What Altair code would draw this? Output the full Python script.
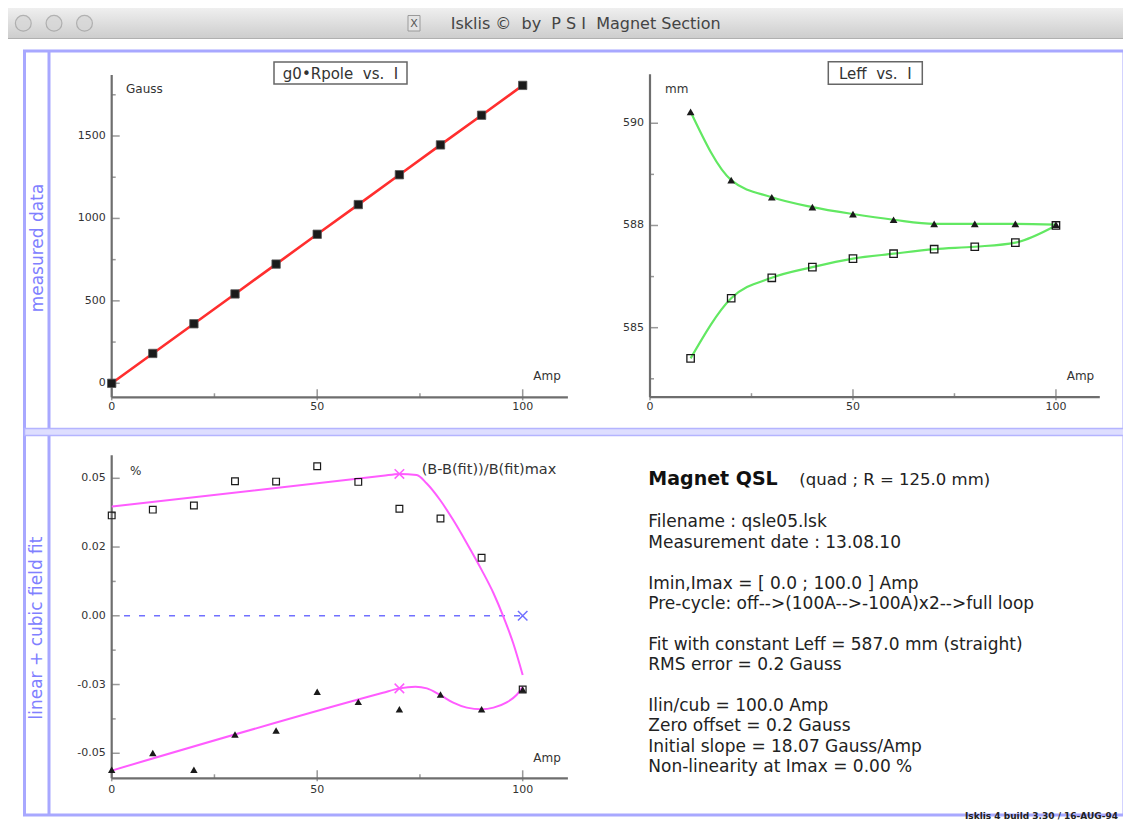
import altair as alt
import pandas as pd

# ---------------- values ----------------
current = [0, 10, 20, 30, 40, 50, 60, 70, 80, 90, 100]
field_gauss = [0, 181, 361, 542, 723, 904, 1084, 1265, 1446, 1626, 1807]

leff_current = [10, 20, 30, 40, 50, 60, 70, 80, 90, 100]
leff_up = [590.28, 588.61, 588.19, 587.95, 587.78, 587.64, 587.54, 587.54, 587.54, 587.52]
leff_down = [584.25, 585.72, 586.22, 586.48, 586.69, 586.81, 586.92, 586.98, 587.08, 587.50]

resid_up = [0.0365, 0.0386, 0.0401, 0.0489, 0.0488, 0.0544, 0.0487, 0.0389, 0.0354, 0.0211, -0.0268]
resid_down = [-0.0560, -0.0499, -0.0560, -0.0432, -0.0417, -0.0276, -0.0313, -0.0340, -0.0286, -0.0340, -0.0268]

fit_up_current = [0, 66, 70, 74.2, 76.6, 79.9, 83.1, 86.4, 90.0, 92.9, 95.3, 97.7, 100]
fit_up = [0.0397, 0.0509, 0.0516, 0.0512, 0.0482, 0.0421, 0.0348, 0.0264, 0.0167, 0.0082, -0.0003, -0.0100, -0.0215]
fit_down_current = [0, 66, 70, 73.9, 76.7, 79.9, 83.1, 86.4, 90.0, 92.9, 96.1, 98.5, 100]
fit_down = [-0.0563, -0.0280, -0.0264, -0.0258, -0.0264, -0.0288, -0.0316, -0.0334, -0.0340, -0.0334, -0.0315, -0.0288, -0.0258]
knee_current = [70, 70]
knee_value = [0.0516, -0.0264]
zero_current = [3, 100]
zero_value = [0, 0]
zero_mark_current = [100]
zero_mark_value = [0]

# axis ticks and labels
amp_major = [0, 50, 100]
amp_major_labels = ["0", "50", "100"]
amp_minor = [25, 75]
gauss_major = [0, 500, 1000, 1500]
gauss_major_labels = ["0", "500", "1000", "1500"]
gauss_minor = [250, 750, 1250, 1750]
leff_major = [585, 587.5, 590]
leff_major_labels = ["585", "588", "590"]
leff_minor = [583.75, 586.25, 588.75]
resid_major = [-0.05, -0.025, 0, 0.025, 0.05]
resid_major_labels = ["-0.05", "-0.03", "0.00", "0.02", "0.05"]
resid_minor = [-0.0375, -0.0125, 0.0125, 0.0375]

# texts
window_title = "Isklis \u00a9\u00a0\u00a0by\u00a0\u00a0P S I\u00a0\u00a0Magnet Section"
row_titles = ["measured data", "linear + cubic field fit"]
panel_titles = ["g0\u2022Rpole\u00a0\u00a0vs.\u00a0\u00a0I", "Leff\u00a0\u00a0vs.\u00a0\u00a0I"]
magnet_name = "Magnet QSL"
magnet_type = "(quad ; R = 125.0 mm)"
info_lines = [
    "Filename : qsle05.lsk",
    "Measurement date : 13.08.10",
    "",
    "Imin,Imax = [ 0.0 ; 100.0 ] Amp",
    "Pre-cycle: off-->(100A-->-100A)x2-->full loop",
    "",
    "Fit with constant Leff = 587.0 mm (straight)",
    "RMS error = 0.2 Gauss",
    "",
    "Ilin/cub = 100.0 Amp",
    "Zero offset = 0.2 Gauss",
    "Initial slope = 18.07 Gauss/Amp",
    "Non-linearity at Imax = 0.00 %",
]
build_text = "Isklis 4 build 3.30 / 16-AUG-94"

# ---------------- layout / style ----------------
W, H = 1115, 814
FONT = "DejaVu Sans"
AXC = "#6e6e6e"
FRAME = "#a8a8ff"

TL_X = alt.Scale(domain=[0, 111], range=[103.7, 559.9], nice=False, zero=False)
TL_Y = alt.Scale(domain=[-85, 1870], range=[389.3, 67.0], nice=False, zero=False)
TR_X = alt.Scale(domain=[0, 110.8], range=[642.0, 1091.8], nice=False, zero=False)
TR_Y = alt.Scale(domain=[583.3, 591.2], range=[389.2, 66.2], nice=False, zero=False)
BL_X = alt.Scale(domain=[0, 111], range=[103.7, 559.9], nice=False, zero=False)
BL_Y = alt.Scale(domain=[-0.0591, 0.0584], range=[770.3, 447.2], nice=False, zero=False)

ONE = pd.DataFrame({"d": [0]})


def pos(xs, ys, xf="x", yf="y"):
    return dict(x=alt.X(f"{xf}:Q", scale=xs, axis=None),
                y=alt.Y(f"{yf}:Q", scale=ys, axis=None))


def axes(xs, ys, xdom, ydom, xmaj, xlab, xmin_, ymaj, ylab, ymin_, xdy):
    out = []
    ax = pd.DataFrame({"x": [xdom[0]], "x2": [xdom[1]], "y": [ydom[0]], "y2": [ydom[1]]})
    out.append(alt.Chart(ax).mark_rule(color=AXC, strokeWidth=2.2).encode(
        x=alt.X("x:Q", scale=xs, axis=None), x2="x2:Q", y=alt.Y("y:Q", scale=ys, axis=None)))
    out.append(alt.Chart(ax).mark_rule(color=AXC, strokeWidth=2.2).encode(
        x=alt.X("x:Q", scale=xs, axis=None), y=alt.Y("y:Q", scale=ys, axis=None), y2="y2:Q"))
    ymj = pd.DataFrame({"x": [xdom[0]] * len(ymaj), "y": ymaj, "lab": ylab})
    ymn = pd.DataFrame({"x": [xdom[0]] * len(ymin_), "y": ymin_})
    xmj = pd.DataFrame({"x": xmaj, "y": [ydom[0]] * len(xmaj), "lab": xlab})
    xmn = pd.DataFrame({"x": xmin_, "y": [ydom[0]] * len(xmin_)})
    out.append(alt.Chart(ymj).mark_tick(orient="horizontal", size=8, thickness=1.5,
                                        xOffset=4, color=AXC).encode(**pos(xs, ys)))
    out.append(alt.Chart(ymn).mark_tick(orient="horizontal", size=4, thickness=1.5,
                                        xOffset=2, color=AXC).encode(**pos(xs, ys)))
    out.append(alt.Chart(xmj).mark_tick(orient="vertical", size=11, thickness=1.5,
                                        yOffset=-2.5, color=AXC).encode(**pos(xs, ys)))
    out.append(alt.Chart(xmn).mark_tick(orient="vertical", size=4, thickness=1.5,
                                        yOffset=-2, color=AXC).encode(**pos(xs, ys)))
    out.append(alt.Chart(ymj).mark_text(align="right", baseline="middle", dx=-6, fontSize=11,
                                        font=FONT, color="#333").encode(text="lab:N", **pos(xs, ys)))
    out.append(alt.Chart(xmj).mark_text(align="center", baseline="middle", dy=xdy, fontSize=11,
                                        font=FONT, color="#333").encode(text="lab:N", **pos(xs, ys)))
    return out


def label(txt, x, y, size=12, align="left", baseline="middle", weight="normal", color="#333", angle=0):
    return alt.Chart(ONE).mark_text(text=txt, align=align, baseline=baseline, fontSize=size,
                                    font=FONT, fontWeight=weight, color=color, angle=angle).encode(
        x=alt.value(x), y=alt.value(y))


def vrule(x, y1, y2, color=FRAME, width=3):
    return alt.Chart(ONE).mark_rule(color=color, strokeWidth=width).encode(
        x=alt.value(x), y=alt.value(y1), y2=alt.value(y2))


def hrule(y, x1, x2, color=FRAME, width=3):
    return alt.Chart(ONE).mark_rule(color=color, strokeWidth=width).encode(
        y=alt.value(y), x=alt.value(x1), x2=alt.value(x2))


def box(x1, x2, y1, y2, fill="white", stroke="#666", sw=1.5):
    return alt.Chart(ONE).mark_rect(fill=fill, stroke=stroke, strokeWidth=sw).encode(
        x=alt.value(x1), x2=alt.value(x2), y=alt.value(y1), y2=alt.value(y2))


layers = []

# window title bar
layers.append(alt.Chart(ONE).mark_rect(
    fill=alt.Gradient(gradient="linear",
                      stops=[alt.GradientStop(color="#efefef", offset=0),
                             alt.GradientStop(color="#cdcdcd", offset=1)],
                      x1=0, x2=0, y1=0, y2=1)).encode(
    x=alt.value(0), x2=alt.value(W), y=alt.value(0), y2=alt.value(30.5)))
layers.append(hrule(30.5, 0, W, color="#b0b0b0", width=1))
for cx in [15.3, 46.0, 76.5]:
    layers.append(alt.Chart(ONE).mark_point(shape="circle", size=250, filled=True,
                                            fill="#d6d6d6", stroke="#9c9c9c", strokeWidth=1.2).encode(
        x=alt.value(cx), y=alt.value(15.3)))
layers.append(box(400, 412, 7.5, 23, fill="#e4e4e4", stroke="#9a9a9a", sw=1))
layers.append(label("X", 406, 15.5, size=11, align="center", color="#555"))
layers.append(label(window_title, 577.7, 15.5, size=16, align="center", color="#444"))

# frame
layers.append(box(16.5, 1116, 43, 807, fill="transparent", stroke=FRAME, sw=3))
layers.append(vrule(41, 43, 807))
layers.append(box(16.5, 1116, 420.5, 427.5, fill="#dedeff", stroke="#b4b4ff", sw=1.5))
layers.append(label(row_titles[0], 30, 240, size=17, align="center", color="#8080ff", angle=270))
layers.append(label(row_titles[1], 28.5, 620, size=17, align="center", color="#8080ff", angle=270))

# ---- top-left: g0*Rpole vs I ----
layers += axes(TL_X, TL_Y, [0, 111], [-85, 1870], amp_major, amp_major_labels, amp_minor,
               gauss_major, gauss_major_labels, gauss_minor, 10)
df_b = pd.DataFrame({"x": current, "y": field_gauss})
layers.append(alt.Chart(df_b).mark_line(color="#ff2e2e", strokeWidth=2.6).encode(**pos(TL_X, TL_Y)))
layers.append(alt.Chart(df_b).mark_point(shape="square", size=70, filled=True, fill="#1a1a1a",
                                         stroke="#555", strokeWidth=0.8, opacity=1).encode(**pos(TL_X, TL_Y)))
layers.append(box(266, 399, 54, 76))
layers.append(label(panel_titles[0], 332.5, 65.5, size=15, align="center", color="#333"))
layers.append(label("Gauss", 118, 80.5, size=12))
layers.append(label("Amp", 525.3, 368, size=12))

# ---- top-right: Leff vs I ----
layers += axes(TR_X, TR_Y, [0, 110.8], [583.3, 591.2], amp_major, amp_major_labels, amp_minor,
               leff_major, leff_major_labels, leff_minor, 10)
df_lu = pd.DataFrame({"x": leff_current, "y": leff_up})
df_ld = pd.DataFrame({"x": leff_current, "y": leff_down})
for d in (df_lu, df_ld):
    layers.append(alt.Chart(d).mark_line(color="#62e862", strokeWidth=2.2,
                                         interpolate="monotone").encode(**pos(TR_X, TR_Y)))
layers.append(alt.Chart(df_lu).mark_point(shape="triangle-up", size=60, filled=True,
                                          color="#1a1a1a", opacity=1).encode(**pos(TR_X, TR_Y)))
layers.append(alt.Chart(df_ld).mark_point(shape="square", size=55, filled=False,
                                          color="#1a1a1a", strokeWidth=1.3, opacity=1).encode(**pos(TR_X, TR_Y)))
layers.append(box(820.3, 914.3, 53.7, 76.3))
layers.append(label(panel_titles[1], 867.3, 65.5, size=15, align="center", color="#333"))
layers.append(label("mm", 657, 80.5, size=12))
layers.append(label("Amp", 1058.7, 368, size=12))

# ---- bottom-left: residuals ----
layers += axes(BL_X, BL_Y, [0, 111], [-0.0591, 0.0584], amp_major, amp_major_labels, amp_minor,
               resid_major, resid_major_labels, resid_minor, 11.5)
df_zero = pd.DataFrame({"x": zero_current, "y": zero_value})
layers.append(alt.Chart(df_zero).mark_line(color="#7070ff", strokeWidth=1.5,
                                           strokeDash=[6, 9]).encode(**pos(BL_X, BL_Y)))
xshape = "M-1,-1L1,1M-1,1L1,-1"
layers.append(alt.Chart(pd.DataFrame({"x": zero_mark_current, "y": zero_mark_value})).mark_point(
    shape=xshape, size=90, filled=False, color="#7070ff", strokeWidth=1.5, opacity=1).encode(**pos(BL_X, BL_Y)))
for cx, cy in ((fit_up_current, fit_up), (fit_down_current, fit_down)):
    layers.append(alt.Chart(pd.DataFrame({"x": cx, "y": cy})).mark_line(
        color="#ff5cff", strokeWidth=2, interpolate="monotone").encode(**pos(BL_X, BL_Y)))
layers.append(alt.Chart(pd.DataFrame({"x": knee_current, "y": knee_value})).mark_point(
    shape=xshape, size=90, filled=False, color="#ff5cff", strokeWidth=1.5, opacity=1).encode(**pos(BL_X, BL_Y)))
layers.append(alt.Chart(pd.DataFrame({"x": current, "y": resid_up})).mark_point(
    shape="square", size=45, filled=False, color="#1a1a1a", strokeWidth=1.2, opacity=1).encode(**pos(BL_X, BL_Y)))
layers.append(alt.Chart(pd.DataFrame({"x": current, "y": resid_down})).mark_point(
    shape="triangle-up", size=55, filled=True, color="#1a1a1a", opacity=1).encode(**pos(BL_X, BL_Y)))
layers.append(label("%", 122, 462.7, size=12))
layers.append(label("(B-B(fit))/B(fit)max", 413.7, 462, size=14.5))
layers.append(label("Amp", 525.3, 750.3, size=12))

# ---- bottom-right: info text ----
layers.append(label(magnet_name, 640.3, 477, size=19, weight="bold", baseline="alphabetic", color="#111"))
layers.append(label(magnet_type, 791.3, 477, size=16.5, baseline="alphabetic", color="#222"))
LINE_STEP = 20.4
for i, line in enumerate(info_lines):
    if line:
        layers.append(label(line, 640.3, 519.3 + i * LINE_STEP, size=17, baseline="alphabetic",
                            color="#222"))

layers.append(label(build_text, 1110, 813, size=9, align="right", baseline="bottom",
                    weight="bold", color="#222"))

chart = alt.layer(*layers).resolve_scale(x="independent", y="independent").properties(
    width=W, height=H, padding=0, autosize="none").configure_view(stroke=None)

chart.save("out.html", embed_options={"renderer": "svg", "actions": False})
